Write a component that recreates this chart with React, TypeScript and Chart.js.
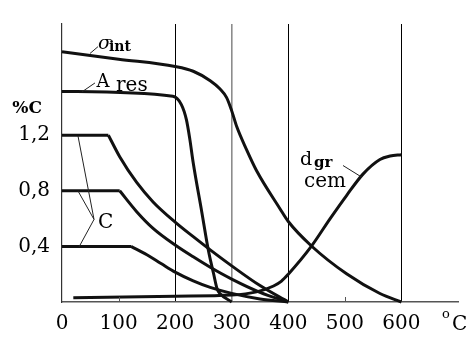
import React, { useEffect, useRef } from 'react';
import { Chart, registerables } from 'chart.js';

Chart.register(...registerables);

// ---- data ----
const xTickValues = [0, 100, 200, 300, 400, 500, 600];
const yTickValues = [0.4, 0.8, 1.2];
const gridTemps = [200, 300, 400, 600];
const minorTickTemps = [100, 500];

const sigmaT = [0, 100, 200, 232, 262, 279, 291, 300, 309, 326, 344, 385, 400, 441, 503, 562, 600];
const sigmaV = [1.8, 1.747, 1.694, 1.66, 1.592, 1.534, 1.47, 1.375, 1.26, 1.098, 0.944, 0.673, 0.579, 0.403, 0.203, 0.061, 0];

const aresT = [0, 196, 211, 220, 226, 232, 247, 259, 268, 274, 279, 300];
const aresV = [1.515, 1.48, 1.42, 1.31, 1.17, 1.0, 0.65, 0.367, 0.203, 0.097, 0.062, 0];

const c12FlatT = [0, 82];
const c12FlatV = [1.2, 1.2];
const c12T = [82, 102, 132, 161, 200, 232, 262, 300, 350, 400];
const c12V = [1.2, 1.045, 0.86, 0.72, 0.575, 0.47, 0.375, 0.26, 0.118, 0];

const c08FlatT = [0, 102];
const c08FlatV = [0.8, 0.8];
const c08T = [102, 132, 161, 200, 232, 262, 300, 350, 400];
const c08V = [0.8, 0.65, 0.53, 0.41, 0.325, 0.25, 0.165, 0.07, 0];

const c04FlatT = [0, 122];
const c04FlatV = [0.4, 0.4];
const c04T = [122, 150, 175, 200, 232, 262, 300, 350, 400];
const c04V = [0.4, 0.34, 0.277, 0.215, 0.152, 0.105, 0.062, 0.022, 0];

const dgrT = [20, 200, 300, 344, 374, 388, 400, 441, 474, 503, 532, 562, 580, 600];
const dgrV = [0.03, 0.042, 0.05, 0.073, 0.115, 0.15, 0.2, 0.402, 0.6, 0.766, 0.92, 1.025, 1.05, 1.06];

const zip = (xs: number[], ys: number[]) => xs.map((x, i) => ({ x, y: ys[i] }));

const SERIF = "'DejaVu Serif', serif";
const INK = '#111';

const curve = (t: number[], v: number[], smooth: boolean) => ({
  data: zip(t, v),
  borderColor: INK,
  borderWidth: 3,
  pointRadius: 0,
  fill: false,
  clip: false as any,
  tension: 0,
  cubicInterpolationMode: smooth ? ('monotone' as const) : ('default' as const),
  borderJoinStyle: 'round' as const,
  borderCapStyle: 'butt' as const,
});

const annotationPlugin = {
  id: 'annotations',
  afterDatasetsDraw(chart: any) {
    const { ctx, scales } = chart;
    const xs = scales.x;
    const ys = scales.y;
    const X = (v: number) => xs.getPixelForValue(v);
    const Y = (v: number) => ys.getPixelForValue(v);
    ctx.save();

    // small inner tick marks on the temperature axis
    ctx.strokeStyle = '#555';
    ctx.lineWidth = 1;
    minorTickTemps.forEach((t) => {
      const px = Math.round(X(t)) + 0.5;
      ctx.beginPath();
      ctx.moveTo(px, Y(0));
      ctx.lineTo(px, Y(0) - 5);
      ctx.stroke();
    });

    // leader lines
    ctx.strokeStyle = '#222';
    ctx.lineWidth = 1;
    const leader = (x1: number, y1: number, x2: number, y2: number) => {
      ctx.beginPath();
      ctx.moveTo(X(x1), Y(y1));
      ctx.lineTo(X(x2), Y(y2));
      ctx.stroke();
    };
    leader(49.5, 1.788, 63.6, 1.837);
    leader(35.4, 1.512, 58.3, 1.576);
    leader(56.6, 0.594, 28.3, 1.194);
    leader(56.6, 0.594, 28.3, 0.799);
    leader(56.6, 0.594, 30.1, 0.396);
    leader(496.7, 0.982, 530.3, 0.897);

    ctx.fillStyle = '#000';
    ctx.textBaseline = 'alphabetic';
    ctx.textAlign = 'left';
    const text = (s: string, x: number, y: number, font: string) => {
      ctx.font = font;
      ctx.fillText(s, X(x), Y(y));
    };
    text('σ', 63.6, 1.823, `italic 19px ${SERIF}`);
    text('int', 83.1, 1.809, `bold 14px ${SERIF}`);
    text('A', 61.0, 1.545, `18px ${SERIF}`);
    text('res', 95.5, 1.519, `20px ${SERIF}`);
    text('C', 63.6, 0.53, `20px ${SERIF}`);
    text('d', 420.7, 0.989, `19px ${SERIF}`);
    text('gr', 445.5, 0.968, `bold 15px ${SERIF}`);
    text('cem', 427.8, 0.827, `20px ${SERIF}`);

    // axis names
    ctx.textAlign = 'right';
    ctx.font = `bold 17px ${SERIF}`;
    ctx.fillText('%C', xs.left - 20, Y(1.357));
    ctx.textAlign = 'left';
    text('o', 671.7, -0.113, `13px ${SERIF}`);
    text('C', 689.4, -0.198, `20px ${SERIF}`);

    ctx.restore();
  },
};

export default function App() {
  const canvasRef = useRef<HTMLCanvasElement | null>(null);

  useEffect(() => {
    document.body.style.margin = '0';
    const canvas = canvasRef.current;
    if (!canvas) return;
    const chart = new Chart(canvas, {
      type: 'line',
      data: {
        datasets: [
          curve(sigmaT, sigmaV, true),
          curve(aresT, aresV, true),
          curve(c12FlatT, c12FlatV, false),
          curve(c12T, c12V, true),
          curve(c08FlatT, c08FlatV, false),
          curve(c08T, c08V, true),
          curve(c04FlatT, c04FlatV, false),
          curve(c04T, c04V, true),
          curve(dgrT, dgrV, true),
        ] as any,
      },
      options: {
        responsive: false,
        animation: false,
        devicePixelRatio: 1,
        events: [],
        layout: { padding: { left: 0, right: 11, top: 19, bottom: 0 } },
        plugins: {
          legend: { display: false },
          tooltip: { enabled: false },
        },
        scales: {
          x: {
            type: 'linear',
            min: 0,
            max: 700,
            afterBuildTicks: (scale: any) => {
              scale.ticks = xTickValues.map((value) => ({ value }));
            },
            afterFit: (scale: any) => {
              scale.height = 36;
            },
            grid: {
              display: true,
              drawTicks: false,
              color: (c: any) =>
                gridTemps.includes(c.tick?.value)
                  ? c.tick.value === 300
                    ? '#8c8c8c'
                    : '#000'
                  : 'rgba(0,0,0,0)',
              lineWidth: (c: any) => (c.tick?.value === 300 ? 1.6 : 1),
            },
            border: { display: true, color: '#555', width: 1.5 },
            ticks: {
              autoSkip: false,
              maxRotation: 0,
              padding: 10,
              color: '#000',
              font: { family: SERIF, size: 20 },
              callback: (v: any) => String(v),
            },
          },
          y: {
            type: 'linear',
            min: 0,
            max: 2,
            afterBuildTicks: (scale: any) => {
              scale.ticks = yTickValues.map((value) => ({ value }));
            },
            afterFit: (scale: any) => {
              scale.width = 62;
            },
            grid: { display: false, drawTicks: false },
            border: { display: true, color: '#333', width: 1.2 },
            ticks: {
              padding: 12,
              color: '#000',
              font: { family: SERIF, size: 20 },
              callback: (v: any) => String(v).replace('.', ','),
            },
          },
        },
      },
      plugins: [annotationPlugin],
    });
    return () => chart.destroy();
  }, []);

  return (
    <div style={{ position: 'fixed', left: 0, top: 0, width: 469, height: 338, background: '#fff' }}>
      <canvas ref={canvasRef} width={469} height={338} style={{ width: 469, height: 338, display: 'block' }} />
    </div>
  );
}
